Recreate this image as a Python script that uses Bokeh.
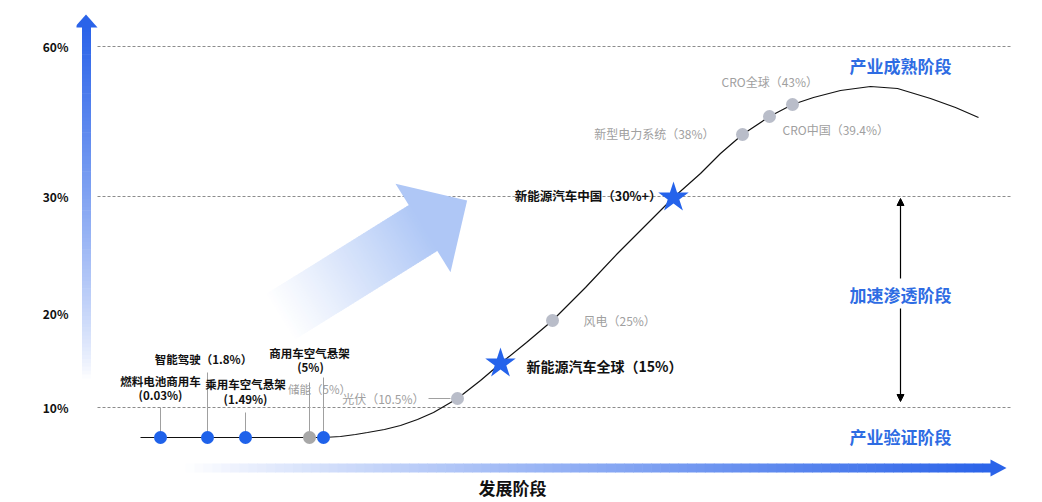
import numpy as np
from bokeh.plotting import figure
from bokeh.models import Range1d, FixedTicker, Label, Arrow, NormalHead
from bokeh.core.properties import value
from bokeh.embed import file_html
from bokeh.resources import INLINE

FONT = "Noto Sans CJK SC"

# ---------------- data ----------------
# y axis: penetration-rate levels (schematic, non-linear)
TICK_LEVELS = [30, 124, 241, 391]
TICK_LABELS = ["10%", "20%", "30%", "60%"]
GRID_LEVELS = [30, 241, 391]

# S-curve (development stage x, level y)
CURVE_X = [140, 323, 340, 355, 367, 384, 400, 417, 433, 457, 480, 500, 526, 552, 585, 617, 645,
           673, 700, 720, 742, 769, 792, 813, 840, 870, 897, 930, 955, 978]
CURVE_Y = [0, 0, 1, 3, 5, 8, 12, 18, 25, 39, 57, 74, 95, 117, 150, 184, 212,
           240, 264, 284, 303, 321, 333, 340, 347, 351, 349, 339, 330, 320]

# early stage items on the baseline
EARLY_NAMES = ["燃料电池商用车", "智能驾驶", "乘用车空气悬架", "储能", "商用车空气悬架"]
EARLY_RATES = ["0.03%", "1.8%", "1.49%", "5%", "5%"]
EARLY_X = [160, 207, 245, 309, 323]
EARLY_Y = [0, 0, 0, 0, 0]
EARLY_HIGHLIGHT = [True, True, True, False, True]

# items on the curve (grey dots)
CURVE_NAMES = ["光伏", "风电", "新型电力系统", "CRO中国", "CRO全球"]
CURVE_RATES = ["10.5%", "25%", "38%", "39.4%", "43%"]
CURVE_PX = [457, 552, 742, 769, 792]
CURVE_PY = [39, 117, 303, 321, 333]

# highlighted items (stars)
STAR_NAMES = ["新能源汽车全球", "新能源汽车中国"]
STAR_RATES = ["15%", "30%+"]
STAR_X = [500, 673]
STAR_Y = [74, 240]

STAGES = ["产业成熟阶段", "加速渗透阶段", "产业验证阶段"]

# ---------------- style ----------------
BLUE = "#2563eb"
DOT_BLUE = "#1f62ea"
STAGE_BLUE = "#2e6ce3"
GREY_DOT = "#b9bdc9"
GREY_DOT2 = "#a8a8a8"
GREY_TXT = "#a0a0a0"
DARK = "#111111"
LIGHT_ARROW = "#afc7f6"


def blend(c1, c2, t):
    a = [int(c1[i:i + 2], 16) for i in (1, 3, 5)]
    b = [int(c2[i:i + 2], 16) for i in (1, 3, 5)]
    return "#%02x%02x%02x" % tuple(int(round(a[k] + (b[k] - a[k]) * t)) for k in range(3))


p = figure(width=1034, height=502, output_backend="svg", toolbar_location=None,
           x_range=Range1d(76, 1030), y_range=Range1d(-65, 425),
           x_axis_location=None,
           min_border_left=76, min_border_right=4, min_border_top=12, min_border_bottom=0)
p.outline_line_color = None
p.xgrid.visible = False
p.ygrid.visible = False
p.background_fill_color = "white"
p.border_fill_color = "white"

ax = p.yaxis[0]
ax.ticker = FixedTicker(ticks=TICK_LEVELS)
ax.major_label_overrides = {t: l for t, l in zip(TICK_LEVELS, TICK_LABELS)}
ax.axis_line_color = None
ax.major_tick_line_color = None
ax.minor_tick_line_color = None
ax.major_tick_out = 0
ax.major_tick_in = 0
ax.major_label_standoff = 8
ax.major_label_text_font = FONT
ax.major_label_text_font_style = "bold"
ax.major_label_text_font_size = "12px"
ax.major_label_text_color = DARK

# dashed guide lines
p.segment(x0=97, x1=1010, y0=GRID_LEVELS, y1=GRID_LEVELS,
          line_color="#6e6e6e", line_width=0.8, line_dash="3 2")

# ---- vertical gradient arrow (y axis) ----
n = 90
ys = np.linspace(59, 410, n + 1)
t = (np.arange(n) + 0.5) / n
cols = [blend("#ffffff", "#2a63e9", min(1.0, ti ** 0.8)) for ti in t]
p.quad(left=81.5, right=90.5, bottom=ys[:-1], top=ys[1:] + 0.6,
       fill_color=cols, line_color=None)
p.patch([74, 97, 85.5], [410, 410, 423], fill_color="#2a63e9", line_color=None)

# ---- horizontal gradient arrow (x axis) ----
xs = np.linspace(185, 991, n + 1)
cols = [blend("#ffffff", "#2a63e9", min(1.0, ti ** 0.9)) for ti in t]
p.quad(left=xs[:-1], right=xs[1:] + 0.6, bottom=-35, top=-26,
       fill_color=cols, line_color=None)
p.patch([990, 990, 1006], [-22, -39, -30.5], fill_color="#2a63e9", line_color=None)

# ---- big diagonal arrow ----
u = np.array([0.85, 0.53]); u = u / np.linalg.norm(u)
v = np.array([-u[1], u[0]])
C = np.array([422.5, 209.5])
m = 60
ss = np.linspace(-170, 0, m + 1)
pxs, pys, pcols = [], [], []
for i in range(m):
    s0, s1 = ss[i], ss[i + 1] + 0.8
    pts = [C + s0 * u - 27 * v, C + s1 * u - 27 * v, C + s1 * u + 27 * v, C + s0 * u + 27 * v]
    pxs.append([q[0] for q in pts]); pys.append([q[1] for q in pts])
    tt = (i + 0.5) / m
    pcols.append(blend("#ffffff", LIGHT_ARROW, min(1.0, tt ** 1.1)))
p.patches(pxs, pys, fill_color=pcols, line_color=None)
head = [C - 52 * v, C + 52 * u, C + 52 * v]
p.patch([q[0] for q in head], [q[1] for q in head], fill_color=LIGHT_ARROW, line_color=None)

# ---- S-curve ----
p.line(CURVE_X, CURVE_Y, line_color="#111111", line_width=1.2)

# ---- stems for early items ----
STEM_TOP = [30, 65, 25, 55, 60]
p.segment(x0=EARLY_X, x1=EARLY_X, y0=EARLY_Y, y1=STEM_TOP, line_color="#a0a0a0", line_width=1)
# connector for 光伏
p.segment(x0=[428], x1=[450], y0=[CURVE_PY[0]], y1=[CURVE_PY[0]], line_color="#a0a0a0", line_width=1)

# dots
p.scatter(EARLY_X, EARLY_Y, size=13,
          fill_color=[DOT_BLUE if h else GREY_DOT2 for h in EARLY_HIGHLIGHT], line_color=None)
p.scatter(CURVE_PX, CURVE_PY, size=13, fill_color=GREY_DOT, line_color=None)
p.scatter(STAR_X, STAR_Y, marker="star", size=32, fill_color=BLUE, line_color=None)


def txt(x, y, s, size="12px", bold=False, color=DARK, align="center"):
    p.text(x=[x], y=[y], text=[s], text_font=value(FONT), text_font_size=size,
           text_font_style="bold" if bold else "normal", text_color=color,
           text_align=align, text_baseline="middle")


# early labels
txt(160, 57, EARLY_NAMES[0], "11.5px", True)
txt(160, 43, "(" + EARLY_RATES[0] + ")", "11.5px", True)
txt(203, 79, EARLY_NAMES[1] + "（" + EARLY_RATES[1] + "）", "11.5px", True)
txt(245, 54, EARLY_NAMES[2], "11.5px", True)
txt(245, 39, "(" + EARLY_RATES[2] + ")", "11.5px", True)
txt(319, 49, EARLY_NAMES[3] + "（" + EARLY_RATES[3] + "）", "11.5px", False, GREY_TXT)
txt(309, 85, EARLY_NAMES[4], "11.5px", True)
txt(310, 71, "(" + EARLY_RATES[4] + ")", "11.5px", True)

# curve labels
cl = lambda i: CURVE_NAMES[i] + "（" + CURVE_RATES[i] + "）"
txt(424, 39, cl(0), "12px", False, GREY_TXT, "right")
txt(583, 117, cl(1), "12px", False, GREY_TXT, "left")
txt(714, 304, cl(2), "12px", False, GREY_TXT, "right")
txt(782, 308, cl(3), "12px", False, GREY_TXT, "left")
txt(721, 356, cl(4), "12px", False, GREY_TXT, "left")

# star labels
txt(526, 72, STAR_NAMES[0] + "（" + STAR_RATES[0] + "）", "14px", True, DARK, "left")
txt(661, 242, STAR_NAMES[1] + "（" + STAR_RATES[1] + "）", "12.5px", True, DARK, "right")

# stage labels
txt(900, 372, STAGES[0], "17px", True, STAGE_BLUE)
txt(900, 143, STAGES[1], "17px", True, STAGE_BLUE)
txt(900, 1, STAGES[2], "17px", True, STAGE_BLUE)

# double arrow for the acceleration stage
p.add_layout(Arrow(end=NormalHead(size=7, fill_color="black", line_color="black"),
                   x_start=900, y_start=159, x_end=900, y_end=239,
                   line_color="black", line_width=1.2))
p.add_layout(Arrow(end=NormalHead(size=7, fill_color="black", line_color="black"),
                   x_start=900, y_start=129, x_end=900, y_end=36,
                   line_color="black", line_width=1.2))

# axis titles
p.add_layout(Label(x=19, y=297, text="渗透率", angle=np.pi / 2, text_font=FONT,
                   text_font_size="17px", text_font_style="bold", text_color=DARK,
                   text_align="center", text_baseline="middle"))
txt(512, -50, "发展阶段", "17px", True)

open("out.html", "w").write(file_html(p, INLINE))
